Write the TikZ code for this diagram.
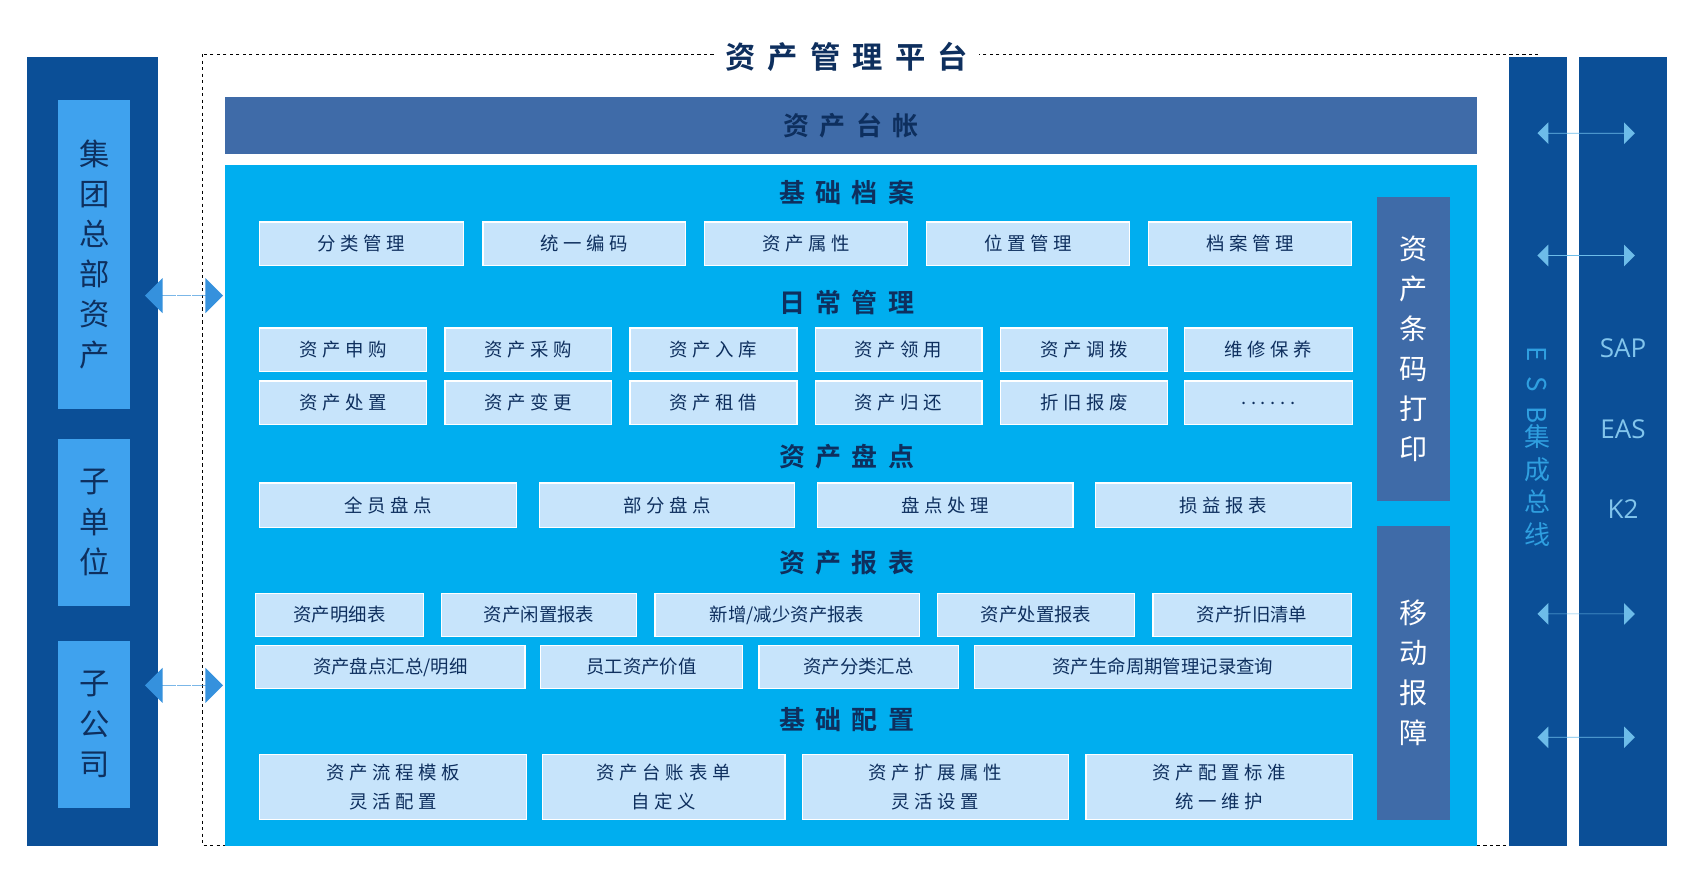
\documentclass[tikz,border=0pt]{standalone}
\usepackage{fontspec}
\setmainfont{Noto Sans CJK SC}
\newfontfamily\cjs[LetterSpace=25]{Noto Sans CJK SC}
\newfontfamily\cjb[LetterSpace=40]{Noto Sans CJK SC Bold}
\newfontfamily\latn{Open Sans}
\usetikzlibrary{shapes.arrows}
\definecolor{dk}{HTML}{0B4F97}
\definecolor{nav}{HTML}{0E2F5E}
\definecolor{mid}{HTML}{3F6BA8}
\definecolor{cy}{HTML}{00AEEF}
\definecolor{lb}{HTML}{C7E4FB}
\definecolor{sky}{HTML}{3FA2EE}
\definecolor{esb}{HTML}{2F9FE0}
\tikzset{
 box/.style={draw=white,line width=1.2pt,fill=lb,inner sep=0pt,text=nav,font=\cjs\fontsize{17}{22}\selectfont,align=center},
 rbox/.style={box,font=\fontsize{17}{22}\selectfont},
 head/.style={text=nav,font=\cjb\fontsize{24}{28}\selectfont},
 arr/.style={double arrow,double arrow head extend=6pt,fill=esb!70,draw=none,minimum height=90pt,minimum width=20pt,inner sep=0pt}
}
\newcommand\bx[6][box]{\node[#1,minimum width={(#4-#2)*1pt},minimum height={(#6-#3)*1pt}] at ({(#2+#4)/2},{(#3+#6)/2}) (#5) {#6};}
\newcommand\bb[7][box]{\node[#1,minimum width={(#5-#3)*1pt},minimum height={(#6-#4)*1pt}] at ({(#3+#5)/2},{(#4+#6)/2}) (#2) {#7};}
\begin{document}
\begin{tikzpicture}[x=1pt,y=-1pt]
\useasboundingbox (0,0) rectangle (1560,807);
\fill[white] (0,0) rectangle (1560,807);
% left column
\fill[dk] (25,53) rectangle (146,781);
\bb[box,fill=sky,draw=none,font=\fontsize{28}{37}\selectfont]{l1}{54}{92}{120}{378}{集\\团\\总\\部\\资\\产}
\bb[box,fill=sky,draw=none,font=\fontsize{28}{37}\selectfont]{l2}{54}{405}{120}{560}{子\\单\\位}
\bb[box,fill=sky,draw=none,font=\fontsize{28}{37}\selectfont]{l3}{54}{592}{120}{746}{子\\公\\司}
% dashed frame
\draw[dashed,line width=1pt] (187,50) rectangle (1420,781);
\node[fill=white,text=nav,font=\cjb\fontsize{28}{32}\selectfont,inner xsep=10pt] (title) at (782,53) {资产管理平台};
% ledger
\bb[box,fill=mid,draw=none,font=\cjb\fontsize{24}{28}\selectfont]{ledger}{208}{90}{1364}{142}{资产台帐}
\fill[cy] (208,152) rectangle (1364,781);
% arrows left
\node[arr,minimum height=72pt,minimum width=24pt,double arrow head extend=16pt,fill=sky!80!dk] (la1) at (170,273) {};
\node[arr,minimum height=72pt,minimum width=24pt,double arrow head extend=16pt,fill=sky!80!dk] (la2) at (170,633) {};
\draw[white,line width=1pt] (163,250)--(163,296) (177,250)--(177,296) (163,610)--(163,656) (177,610)--(177,656);
% headings
\node[head] (h1) at (782,178) {基础档案};
\node[head] (h2) at (782,279) {日常管理};
\node[head] (h3) at (782,422) {资产盘点};
\node[head] (h4) at (782,520) {资产报表};
\node[head] (h5) at (782,665) {基础配置};
% row1
\bb{a1}{240}{205}{428}{245}{分类管理}
\bb{a2}{446}{205}{633}{245}{统一编码}
\bb{a3}{651}{205}{838}{245}{资产属性}
\bb{a4}{856}{205}{1043}{245}{位置管理}
\bb{a5}{1061}{205}{1248}{245}{档案管理}
% row2
\bb{b1}{240}{303}{394}{343}{资产申购}
\bb{b2}{411}{303}{565}{343}{资产采购}
\bb{b3}{582}{303}{736}{343}{资产入库}
\bb{b4}{753}{303}{907}{343}{资产领用}
\bb{b5}{924}{303}{1078}{343}{资产调拨}
\bb{b6}{1094}{303}{1249}{343}{维修保养}
\bb{c1}{240}{352}{394}{392}{资产处置}
\bb{c2}{411}{352}{565}{392}{资产变更}
\bb{c3}{582}{352}{736}{392}{资产租借}
\bb{c4}{753}{352}{907}{392}{资产归还}
\bb{c5}{924}{352}{1078}{392}{折旧报废}
\bb{c6}{1094}{352}{1249}{392}{\raisebox{-4pt}{......}}
% row4
\bb{d1}{240}{446}{477}{487}{全员盘点}
\bb{d2}{498}{446}{734}{487}{部分盘点}
\bb{d3}{755}{446}{991}{487}{盘点处理}
\bb{d4}{1012}{446}{1248}{487}{损益报表}
% reports
\bb[rbox]{e1}{236}{548}{391}{588}{资产明细表}
\bb[rbox]{e2}{408}{548}{588}{588}{资产闲置报表}
\bb[rbox]{e3}{605}{548}{849}{588}{新增/减少资产报表}
\bb[rbox]{e4}{866}{548}{1048}{588}{资产处置报表}
\bb[rbox]{e5}{1065}{548}{1248}{588}{资产折旧清单}
\bb[rbox]{f1}{236}{596}{485}{636}{资产盘点汇总/明细}
\bb[rbox]{f2}{499}{596}{686}{636}{员工资产价值}
\bb[rbox]{f3}{701}{596}{885}{636}{资产分类汇总}
\bb[rbox]{f4}{900}{596}{1248}{636}{资产生命周期管理记录查询}
% config
\bb[box,font=\cjs\fontsize{17}{27}\selectfont]{g1}{240}{697}{486}{757}{资产流程模板\\灵活配置}
\bb[box,font=\cjs\fontsize{17}{27}\selectfont]{g2}{501}{697}{725}{757}{资产台账表单\\自定义}
\bb[box,font=\cjs\fontsize{17}{27}\selectfont]{g3}{741}{697}{987}{757}{资产扩展属性\\灵活设置}
\bb[box,font=\cjs\fontsize{17}{27}\selectfont]{g4}{1003}{697}{1249}{757}{资产配置标准\\统一维护}
% right side boxes
\bb[box,fill=mid,draw=none,text=white,font=\fontsize{26}{37}\selectfont]{p1}{1272}{182}{1339}{463}{资\\产\\条\\码\\打\\印}
\bb[box,fill=mid,draw=none,text=white,font=\fontsize{26}{37}\selectfont]{p2}{1272}{486}{1339}{757}{移\\动\\报\\障}
% ESB
\fill[dk] (1394,53) rectangle (1447,781);
\node[text=esb,font=\fontsize{24}{30}\selectfont,align=center,inner sep=0pt] (esb) at (1420,412) {\rotatebox{-90}{E}\\[-2pt]\rotatebox{-90}{S}\\[-2pt]\rotatebox{-90}{B}\\集\\成\\总\\线};
\fill[dk] (1458,53) rectangle (1540,781);
\node[text=esb!60!white,font=\latn\fontsize{24}{30}\selectfont] (sap) at (1499,322) {SAP};
\node[text=esb!60!white,font=\latn\fontsize{24}{30}\selectfont] (eas) at (1499,396) {EAS};
\node[text=esb!60!white,font=\latn\fontsize{24}{30}\selectfont] (k2) at (1499,470) {K2};
% right arrows
\node[arr] (ra1) at (1465,123) {};
\node[arr] (ra2) at (1465,236) {};
\node[arr] (ra3) at (1465,567) {};
\node[arr] (ra4) at (1465,681) {};
\end{tikzpicture}
\end{document}
